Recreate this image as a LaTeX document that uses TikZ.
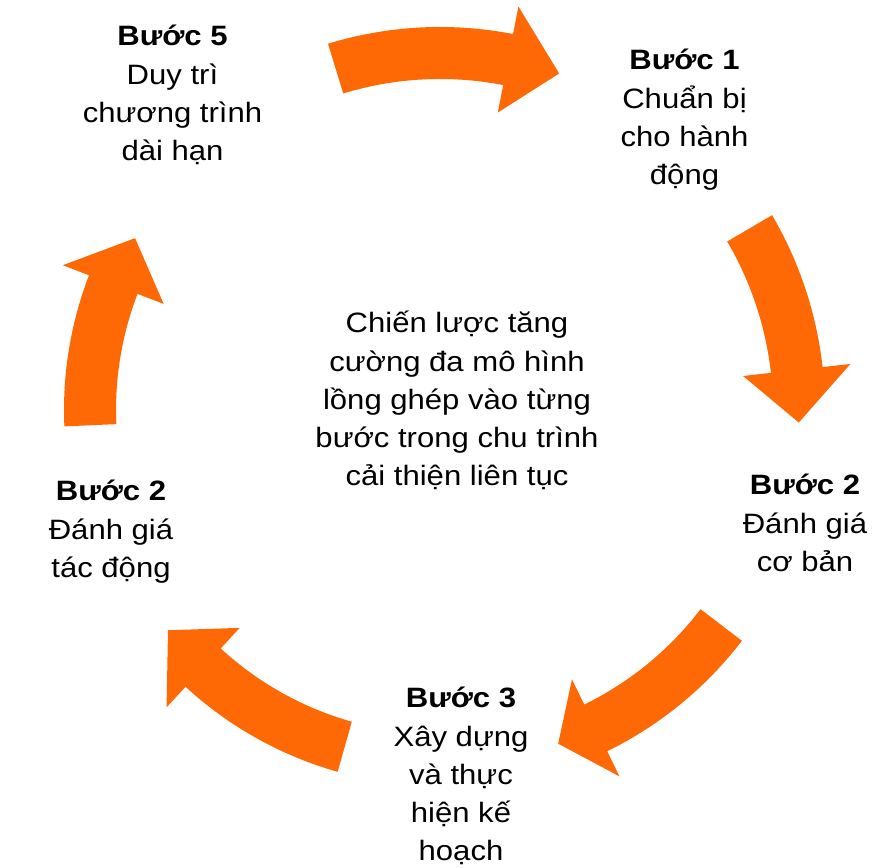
\documentclass[tikz,border=0pt]{standalone}
\usepackage{fontspec}
\setmainfont[FakeStretch=1.11]{Liberation Sans}
\usetikzlibrary{calc}
\definecolor{cycorange}{RGB}{255,105,5}
\tikzset{
  arrowfill/.style={fill=cycorange},
  steptext/.style={align=center, anchor=north, inner sep=0pt, text=black,
    font=\fontsize{28}{38.3}\selectfont}
}
\newcommand{\cyclearrow}[4]{%
  \pgfmathsetmacro\Ro{#4+26}\pgfmathsetmacro\Ri{#4-26}%
  \pgfmathsetmacro\Ho{#4+54}\pgfmathsetmacro\Hi{#4-54}%
  \fill[arrowfill] ($(C)+(#1:\Ro pt)$) arc[start angle=#1, end angle=#2, radius=\Ro pt]
    -- ($(C)+(#2:\Ho pt)$) -- ($(C)+(#3:#4pt)$) -- ($(C)+(#2:\Hi pt)$)
    -- ($(C)+(#2:\Ri pt)$) arc[start angle=#2, end angle=#1, radius=\Ri pt] -- cycle;}
\begin{document}
\begin{tikzpicture}[x=1pt,y=1pt]
\fill[white] (0,0) rectangle (882,867);
\useasboundingbox (0,0) rectangle (882,867);
\coordinate (C) at (440,457);
\cyclearrow{107}{79}{70.5}{357}
\cyclearrow{30.4}{6.4}{-2}{359}
\cyclearrow{-37.4}{-63.9}{-70.5}{354}
\cyclearrow{-105.8}{-132.6}{-141}{350}
\cyclearrow{182.5}{159}{150.6}{350}
\node[steptext] (s5) at (172.5,842) {\textbf{Bước 5}\\Duy trì\\chương trình\\dài hạn};
\node[steptext] (s1) at (684.5,818) {\textbf{Bước 1}\\Chuẩn bị\\cho hành\\động};
\node[steptext] (mid) at (457,556) {Chiến lược tăng\\cường đa mô hình\\lồng ghép vào từng\\bước trong chu trình\\cải thiện liên tục};
\node[steptext] (r2) at (805,393) {\textbf{Bước 2}\\Đánh giá\\cơ bản};
\node[steptext] (l2) at (111,387) {\textbf{Bước 2}\\Đánh giá\\tác động};
\node[steptext] (s3) at (461,180) {\textbf{Bước 3}\\Xây dựng\\và thực\\hiện kế\\hoạch};
\end{tikzpicture}
\end{document}
